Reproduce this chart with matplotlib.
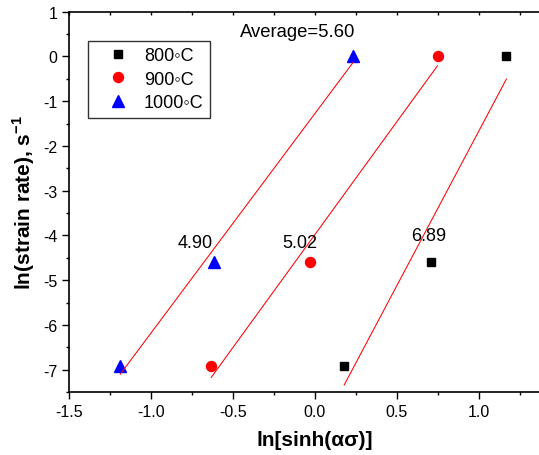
import numpy as np
import matplotlib
matplotlib.use("Agg")
import matplotlib.pyplot as plt
from matplotlib.ticker import MultipleLocator

plt.rcParams['font.family'] = ['Liberation Sans', 'DejaVu Sans']
plt.rcParams['mathtext.fontset'] = 'custom'
plt.rcParams['mathtext.rm'] = 'Liberation Sans'
plt.rcParams['mathtext.bf'] = 'Liberation Sans:bold'

# data: ln(strain rate) vs ln[sinh(alpha*sigma)]
ln_rate = [-6.908, -4.605, 0.0]
x_800 = [0.178, 0.71, 1.167]
x_900 = [-0.633, -0.03, 0.747]
x_1000 = [-1.187, -0.613, 0.233]

labels = ['800\u25e6C', '900\u25e6C', '1000\u25e6C']
slope_text = ['6.89', '5.02', '4.90']
slope_pos = [(0.694, -4.0), (-0.093, -4.16), (-0.73, -4.16)]
avg_text = 'Average=5.60'

fig = plt.figure(figsize=(5.39, 4.56), dpi=100)
# axes runs past the right edge like the original crop
ax = fig.add_axes([69/539, 63/456, 492/539, 380.3/456])

styles = [('s', 'black', 6), ('o', 'red', 7.2), ('^', 'blue', 8.2)]
for xs, lab, (mk, col, ms) in zip([x_800, x_900, x_1000], labels, styles):
    ax.plot(xs, ln_rate, linestyle='none', marker=mk, color=col, markersize=ms, label=lab)
    k, b = np.polyfit(xs, ln_rate, 1)
    xx = np.array([min(xs), max(xs)])
    ax.plot(xx, k*xx + b, color='red', linewidth=0.75)

for t, (tx, ty) in zip(slope_text, slope_pos):
    ax.text(tx, ty, t, ha='center', va='center', fontsize=13)
ax.text(-0.105, 0.565, avg_text, ha='center', va='center', fontsize=13.3)

ax.set_xlim(-1.5, 1.5)
ax.set_ylim(-7.5, 1)
ax.xaxis.set_minor_locator(MultipleLocator(0.25))
ax.yaxis.set_minor_locator(MultipleLocator(0.5))
ax.set_xticks([-1.5, -1.0, -0.5, 0.0, 0.5, 1.0])
ax.set_xticklabels(['-1.5', '-1.0', '-0.5', '0.0', '0.5', '1.0'])
ax.set_yticks(range(-7, 2))
ax.set_yticklabels([str(v) for v in range(-7, 2)])

for s in ax.spines.values():
    s.set_linewidth(1.2)
ax.tick_params(which='major', direction='out', length=5, width=1, labelsize=11.5)
ax.tick_params(which='minor', direction='out', length=2.5, width=1)
ax.tick_params(which='both', top=True, right=False)
for tk in ax.xaxis.get_major_ticks() + ax.xaxis.get_minor_ticks():
    tk.tick2line.set_marker(3)  # inward on top
    tk.tick2line.set_markersize(2.5)

ax.set_xlabel('ln[sinh(\u03b1\u03c3)]', fontsize=15, fontweight='bold', labelpad=8)
ax.set_ylabel(r'ln(strain rate), s$^{\mathbf{-1}}$', fontsize=15, fontweight='bold', labelpad=4)

leg = ax.legend(loc='upper left', bbox_to_anchor=(0.0386, 0.9237), borderaxespad=0,
                fontsize=13, frameon=True, fancybox=False, edgecolor='black',
                handletextpad=0.14, labelspacing=0.36, borderpad=0.36, handlelength=2.6)
leg.get_frame().set_linewidth(1.0)

fig.savefig('out.png', dpi=100)
